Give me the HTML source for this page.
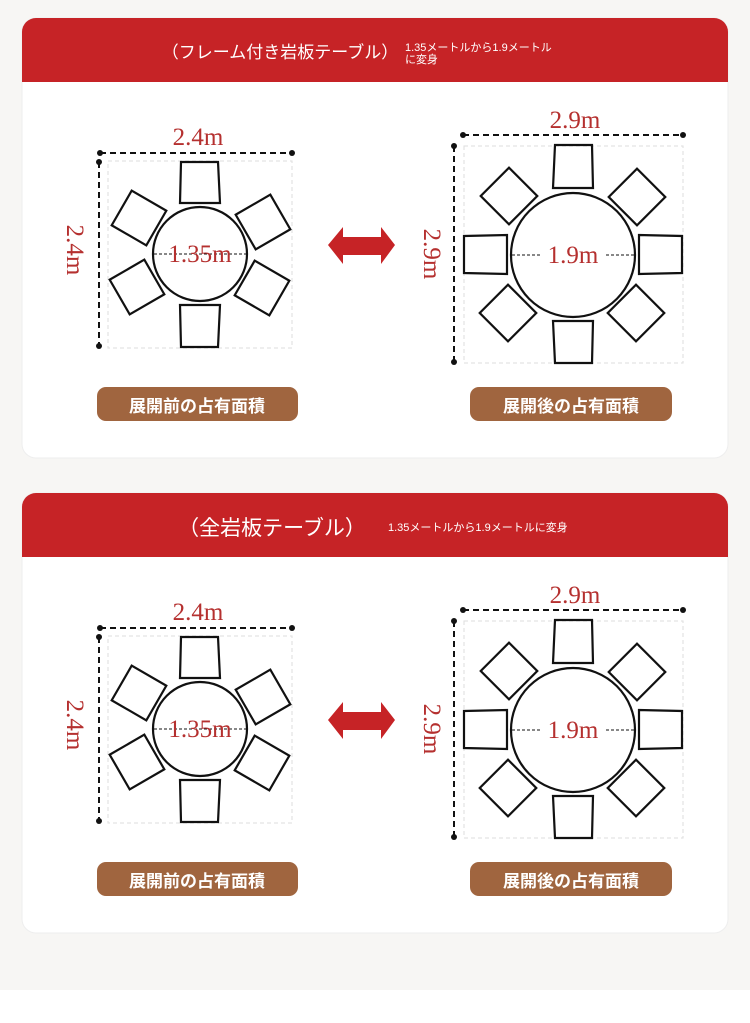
<!DOCTYPE html>
<html><head><meta charset="utf-8"><style>
html,body{margin:0;padding:0;background:#f7f6f4;}
svg{display:block;}
</style></head><body>
<svg width="750" height="1023" viewBox="0 0 750 1023" xmlns="http://www.w3.org/2000/svg" font-family="'Liberation Sans','Noto Sans CJK JP',sans-serif">
<defs>
<g id="dia">
  <rect x="108" y="161" width="184" height="187" fill="none" stroke="#ddd" stroke-dasharray="4,3" stroke-width="1"/>
  <line x1="100" y1="153" x2="292" y2="153" stroke="#111" stroke-width="2" stroke-dasharray="6,4"/>
  <circle cx="100" cy="153" r="3" fill="#111"/><circle cx="292" cy="153" r="3" fill="#111"/>
  <line x1="99" y1="162" x2="99" y2="346" stroke="#111" stroke-width="2" stroke-dasharray="6,4"/>
  <circle cx="99" cy="162" r="3" fill="#111"/><circle cx="99" cy="346" r="3" fill="#111"/>
  <g fill="none" stroke="#111" stroke-width="2.2">
    <circle cx="200" cy="254" r="47"/>
    <path d="M181 162 L218 162 L220 203 L180 203 Z"/>
    <path d="M180 305 L220 305 L218 347 L181 347 Z"/>
    <rect x="-20" y="-20" width="40" height="40" transform="translate(139,218) rotate(30)"/>
    <rect x="-20" y="-20" width="40" height="40" transform="translate(263,222) rotate(-30)"/>
    <rect x="-20" y="-20" width="40" height="40" transform="translate(137,287) rotate(-30)"/>
    <rect x="-20" y="-20" width="40" height="40" transform="translate(262,288) rotate(30)"/>
  </g>
  <line x1="154" y1="254" x2="246" y2="254" stroke="#111" stroke-width="1" stroke-dasharray="3,2"/>
  <g font-family="'Liberation Serif',serif" fill="#b5302f" font-size="25" text-anchor="middle">
    <text x="200" y="262">1.35m</text>
    <text x="198" y="145">2.4m</text>
    <text transform="translate(67,250) rotate(90)">2.4m</text>
    <text x="575" y="128">2.9m</text>
    <text x="573" y="263">1.9m</text>
    <text transform="translate(424,254) rotate(90)">2.9m</text>
  </g>
  <path d="M328 245 L343 227 L343 237 L381 237 L381 227 L395 245 L381 264 L381 255 L343 255 L343 264 Z" fill="#c62326"/>
  <rect x="464" y="146" width="219" height="217" fill="none" stroke="#ddd" stroke-dasharray="4,3" stroke-width="1"/>
  <line x1="463" y1="135" x2="683" y2="135" stroke="#111" stroke-width="2" stroke-dasharray="6,4"/>
  <circle cx="463" cy="135" r="3" fill="#111"/><circle cx="683" cy="135" r="3" fill="#111"/>
  <line x1="454" y1="146" x2="454" y2="362" stroke="#111" stroke-width="2" stroke-dasharray="6,4"/>
  <circle cx="454" cy="146" r="3" fill="#111"/><circle cx="454" cy="362" r="3" fill="#111"/>
  <g fill="none" stroke="#111" stroke-width="2.2">
    <circle cx="573" cy="255" r="62"/>
    <path d="M555 145 L592 145 L593 188 L553 188 Z"/>
    <path d="M553 321 L593 321 L592 363 L555 363 Z"/>
    <path d="M464 236 L507 235 L507 274 L464 273 Z"/>
    <path d="M639 235 L682 236 L682 273 L639 274 Z"/>
    <rect x="-20" y="-20" width="40" height="40" transform="translate(509,196) rotate(45)"/>
    <rect x="-20" y="-20" width="40" height="40" transform="translate(637,197) rotate(45)"/>
    <rect x="-20" y="-20" width="40" height="40" transform="translate(508,313) rotate(45)"/>
    <rect x="-20" y="-20" width="40" height="40" transform="translate(636,313) rotate(45)"/>
  </g>
  <line x1="512" y1="255" x2="540" y2="255" stroke="#111" stroke-width="1" stroke-dasharray="3,2"/>
  <line x1="606" y1="255" x2="634" y2="255" stroke="#111" stroke-width="1" stroke-dasharray="3,2"/>
  <rect x="97" y="387" width="201" height="34" rx="9" fill="#a0653f"/>
  <rect x="470" y="387" width="202" height="34" rx="9" fill="#a0653f"/>
</g>
</defs>
<rect x="0" y="990" width="750" height="33" fill="#fff"/>
<rect x="22" y="18" width="706" height="440" rx="14" fill="#fff" stroke="#eee"/>
<path d="M36 18 H714 A14 14 0 0 1 728 32 V82 H22 V32 A14 14 0 0 1 36 18 Z" fill="#c62326"/>
<text x="280" y="58" fill="#fff" font-size="17" text-anchor="middle">（フレーム付き岩板テーブル）</text>
<text x="405" y="51" fill="#fff" font-size="11">1.35メートルから1.9メートル</text>
<text x="405" y="63" fill="#fff" font-size="11">に変身</text>
<use href="#dia"/>
<text x="197" y="412" fill="#fff" font-size="17" font-weight="bold" text-anchor="middle">展開前の占有面積</text>
<text x="571" y="412" fill="#fff" font-size="17" font-weight="bold" text-anchor="middle">展開後の占有面積</text>
<rect x="22" y="493" width="706" height="440" rx="14" fill="#fff" stroke="#eee"/>
<path d="M36 493 H714 A14 14 0 0 1 728 507 V557 H22 V507 A14 14 0 0 1 36 493 Z" fill="#c62326"/>
<text x="272" y="535" fill="#fff" font-size="21" text-anchor="middle">（全岩板テーブル）</text>
<text x="388" y="531" fill="#fff" font-size="11">1.35メートルから1.9メートルに変身</text>
<use href="#dia" transform="translate(0,475)"/>
<text x="197" y="887" fill="#fff" font-size="17" font-weight="bold" text-anchor="middle">展開前の占有面積</text>
<text x="571" y="887" fill="#fff" font-size="17" font-weight="bold" text-anchor="middle">展開後の占有面積</text>
</svg>
</body></html>
